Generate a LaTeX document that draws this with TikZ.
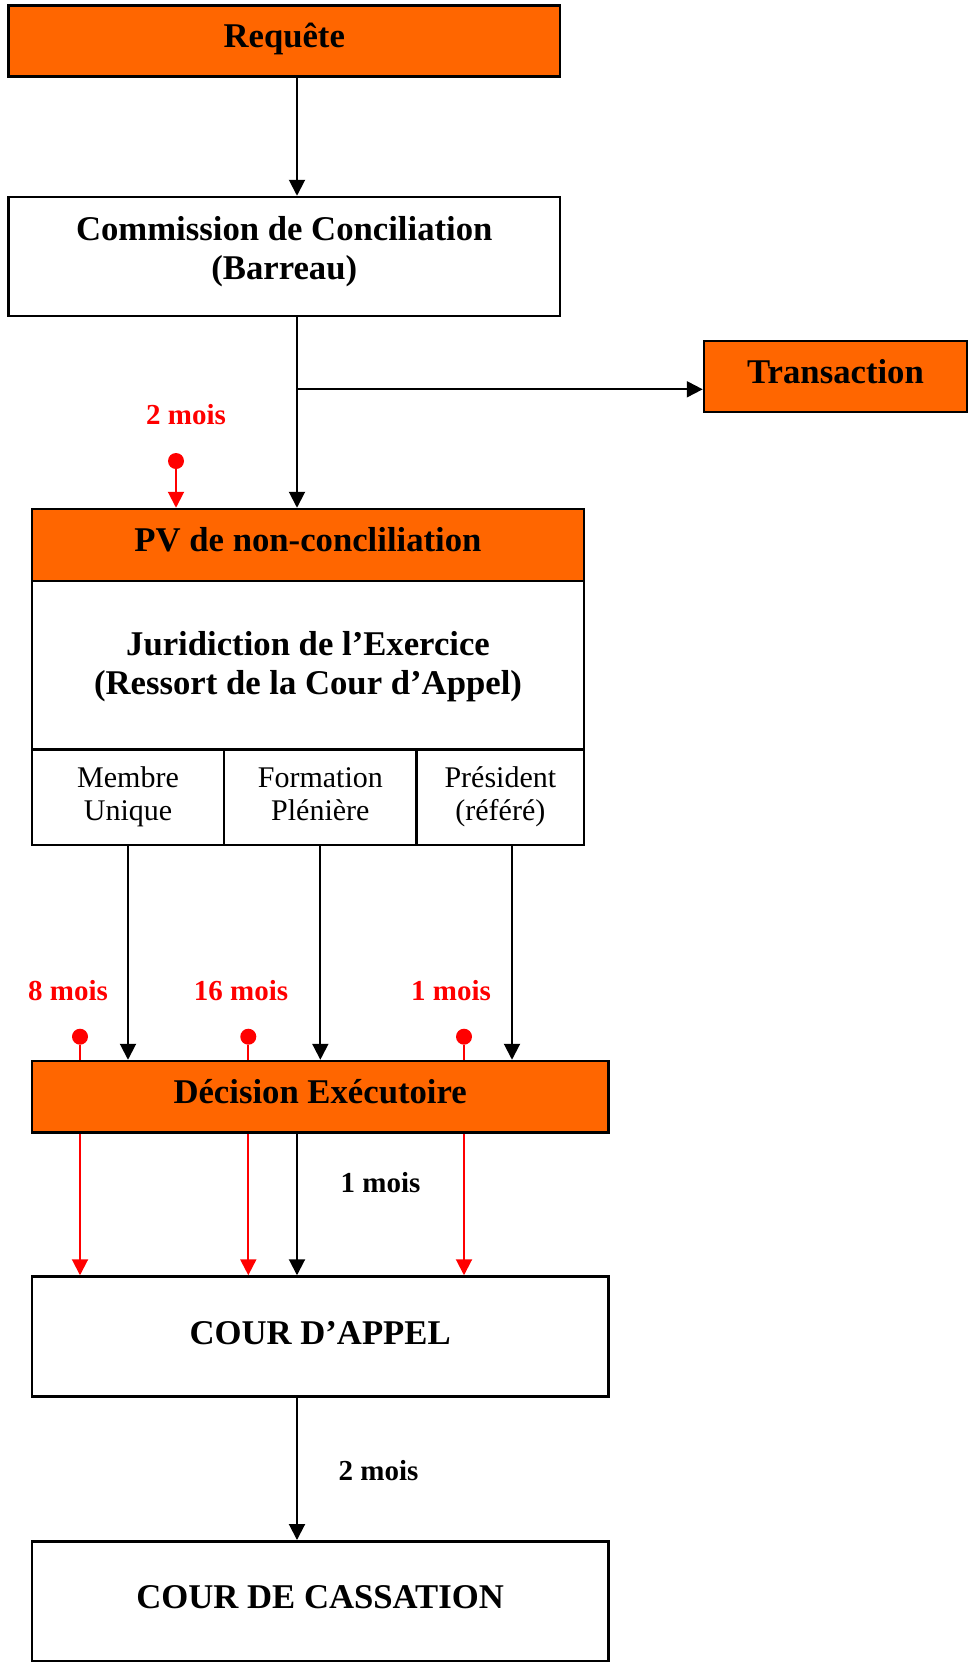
\documentclass[tikz,border=0pt]{standalone}
\usepackage{fontspec}
\setmainfont{Liberation Serif}
\usetikzlibrary{arrows.meta}
\definecolor{orng}{HTML}{FF6600}
\definecolor{rred}{HTML}{FF0000}
\begin{document}
\begin{tikzpicture}[x=1pt,y=-1pt,
  box/.style={draw, line width=2.5pt, rectangle, inner sep=0pt},
  one/.style={font=\fontsize{34.7}{39}\selectfont\bfseries, text height=20pt, text depth=7pt},
  low/.style={text height=22pt, text depth=7pt},
  two/.style={font=\fontsize{34.7}{39}\selectfont\bfseries, align=center, inner sep=0pt},
  obox/.style={box, fill=orng},
  sub/.style={box, align=center, font=\fontsize{30}{33}\selectfont},
  arr/.style={line width=2pt, -{Triangle[width=16pt,length=16pt]}},
  rarr/.style={line width=2pt, draw=rred, -{Triangle[width=16pt,length=16pt]}, rred},
  rdot/.style={circle, fill=rred, minimum size=16pt, inner sep=0pt},
  rlab/.style={text=rred, font=\fontsize{29}{33}\selectfont\bfseries, text height=17pt, text depth=3.4pt},
  blab/.style={font=\fontsize{29}{33}\selectfont\bfseries, text height=17pt, text depth=3.4pt}]
\useasboundingbox (0,0) rectangle (968,1663);
% columns
\coordinate (xa) at (297,0);
\coordinate (xp) at (512,0);
% boxes
\node[obox, one, minimum width=551.5pt, minimum height=71pt] (req) at (284.25,40.8) {Requête};
\node[box, minimum width=551.5pt, minimum height=119pt] (com) at (284.25,256.5) {};
\node[two] (comt) at (284.25,251.5) {Commission de Conciliation\\(Barreau)};
\node[obox, one, minimum width=263pt, minimum height=71pt] (tr) at (835.5,376.5) {Transaction};
\node[obox, one, minimum width=552pt, minimum height=72pt] (pv) at (308,545) {PV de non-concliliation};
\node[box, minimum width=552pt, minimum height=169pt] (jur) at (308,665.5) {};
\node[two] (jurt) at (308,667) {Juridiction de l’Exercice\\(Ressort de la Cour d’Appel)};
\node[sub, minimum width=192pt, minimum height=96pt] (mu) at (128,797) {\strut Membre\\Unique\strut};
\node[sub, minimum width=192.7pt, minimum height=96pt] (fp) at (320.35,797) {\strut Formation\\Plénière\strut};
\node[sub, minimum width=167.3pt, minimum height=96pt] (pr) at (500.35,797) {\strut Président\\(référé)\strut};
\node[obox, one, minimum width=576.3pt, minimum height=71.7pt] (dec) at (320.15,1096.85) {Décision Exécutoire};
\node[box, one, low, minimum width=576.3pt, minimum height=120pt] (cour) at (320.15,1336.5) {COUR D’APPEL};
\node[box, one, low, minimum width=576.3pt, minimum height=119.5pt] (cas) at (320.15,1601) {COUR DE CASSATION};
% black connectors
\draw[arr] (req.south -| xa) -- (com.north -| xa);
\draw[arr] (com.south -| xa) -- (pv.north -| xa);
\coordinate (br) at (297,389.3);
\draw[arr] (br) -- (br -| tr.west);
\draw[arr] (mu.south) -- (mu.south |- dec.north);
\draw[arr] (fp.south) -- (fp.south |- dec.north);
\draw[arr] (pr.south -| xp) -- (dec.north -| xp);
\draw[arr] (dec.south -| xa) -- (cour.north -| xa);
\draw[arr] (cour.south -| xa) -- (cas.north -| xa);
% red markers
\node[rdot] (d0) at (176,461) {};
\draw[rarr] (d0) -- (d0 |- pv.north);
\node[rdot] (d1) at (80,1036.7) {};
\node[rdot] (d2) at (248.3,1036.7) {};
\node[rdot] (d3) at (464,1036.7) {};
\foreach \d in {d1,d2,d3}{
  \draw[rred, line width=2pt] (\d) -- (\d |- dec.north);
  \draw[rarr] (\d |- dec.south) -- (\d |- cour.north);
}
% labels
\node[rlab] (l0) at (186,418) {2 mois};
\node[rlab] (l1) at (68,994) {8 mois};
\node[rlab] (l2) at (241,994) {16 mois};
\node[rlab] (l3) at (451,994) {1 mois};
\node[blab] (l4) at (380.5,1185.7) {1 mois};
\node[blab] (l5) at (378.5,1474) {2 mois};
\end{tikzpicture}
\end{document}
